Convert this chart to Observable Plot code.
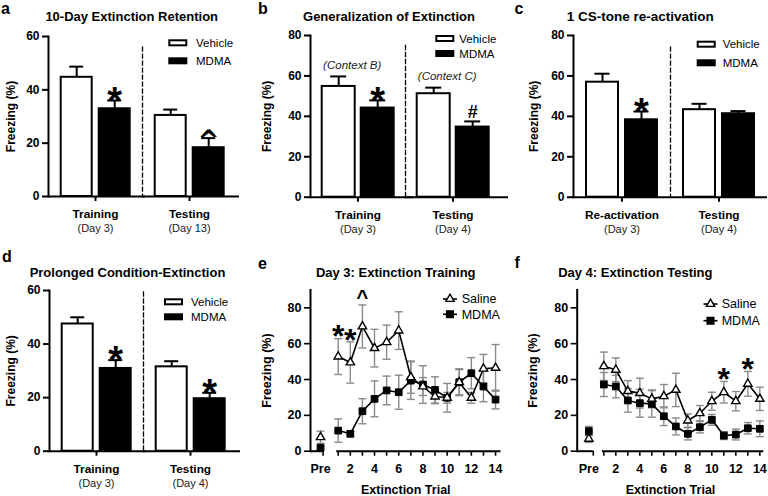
<!DOCTYPE html>
<html><head><meta charset="utf-8">
<script src="https://cdn.jsdelivr.net/npm/d3@7"></script>
<script src="https://cdn.jsdelivr.net/npm/@observablehq/plot@0.6"></script>
<style>
html,body{margin:0;padding:0;background:#fff;}
#root{position:relative;width:768px;height:496px;overflow:hidden;background:#fff;}
</style></head><body><div id="root"></div>
<script>
// ---------------- DATA ----------------
const treatments = ["Vehicle", "MDMA"];

// a: 10-Day Extinction Retention
const aGroups = ["Training", "Testing"];
const aDays = ["(Day 3)", "(Day 13)"];
const aVehicle = [44.7, 30.4];
const aVehicleSem = [4.0, 2.2];
const aMDMA = [32.9, 18.3];
const aMDMASem = [3.1, 3.6];
const aSig = ["*", "^"];

// b: Generalization of Extinction
const bGroups = ["Training", "Testing"];
const bDays = ["(Day 3)", "(Day 4)"];
const bContext = ["(Context B)", "(Context C)"];
const bVehicle = [54.8, 51.2];
const bVehicleSem = [4.95, 3.0];
const bMDMA = [44.1, 34.7];
const bMDMASem = [3.8, 2.8];
const bSig = ["*", "#"];

// c: 1 CS-tone re-activation
const cGroups = ["Re-activation", "Testing"];
const cDays = ["(Day 3)", "(Day 4)"];
const cVehicle = [56.9, 43.3];
const cVehicleSem = [4.2, 2.9];
const cMDMA = [38.3, 41.3];
const cMDMASem = [4.1, 1.3];
const cSig = ["*", ""];

// d: Prolonged Condition-Extinction
const dGroups = ["Training", "Testing"];
const dDays = ["(Day 3)", "(Day 4)"];
const dVehicle = [47.5, 31.5];
const dVehicleSem = [2.5, 2.1];
const dMDMA = [30.9, 19.6];
const dMDMASem = [3.1, 2.2];
const dSig = ["*", "*"];

// e / f: trial series
const trials = [1, 2, 3, 4, 5, 6, 7, 8, 9, 10, 11, 12, 13, 14];
const evenTrials = [2, 4, 6, 8, 10, 12, 14];

const eSaline = [52.8, 49.5, 69.6, 57.5, 60.8, 67.3, 41.3, 36.1, 30.5, 29.8, 38.5, 29.8, 46.0, 46.5];
const eSalineSem = [10, 11.5, 12, 10.5, 9.5, 10.5, 9, 5, 4, 3, 7, 3, 8, 13];
const eMDMA = [11.5, 9.7, 22.3, 29.2, 33.9, 32.9, 39.4, 37.2, 34.2, 29.8, 38.5, 43.5, 36.1, 28.8];
const eMDMASem = [6.5, 1.5, 7, 10, 8, 9.5, 10.5, 10.5, 7.3, 8, 7.5, 8.7, 8.5, 5.2];
const eSalinePre = 7.8, eSalinePreSem = 3.4;
const eMDMAPre = 1.9, eMDMAPreSem = 0.8;
const eSigTrials = [1, 2, 3];
const eSigLabels = ["*", "*", "^"];

const fSaline = [47.4, 45.4, 33.5, 32.4, 29.2, 30.7, 34.2, 17.1, 21.2, 27.9, 32.9, 27.9, 37.6, 29.2];
const fSalineSem = [7.9, 6.6, 5.9, 8.3, 5.0, 6.5, 9.3, 3.7, 4.3, 5.0, 6.0, 5.4, 6.9, 6.5];
const fMDMA = [37.2, 36.1, 28.3, 26.8, 26.4, 19.5, 13.8, 9.7, 13.4, 17.5, 8.7, 9.3, 12.8, 12.5];
const fMDMASem = [6.7, 6.3, 6.5, 7.8, 7.4, 5.2, 4.7, 3.4, 3.2, 3.0, 2.2, 3.0, 3.2, 4.4];
const fSalinePre = 6.9, fSalinePreSem = 2.0;
const fMDMAPre = 11.2, fMDMAPreSem = 2.6;
const fSigTrials = [11, 13];
const fSigLabels = ["*", "*"];

// ---------------- RENDER ----------------
const FONT = '"Liberation Sans", Arial, Helvetica, sans-serif';
const root = document.getElementById("root");
function place(node, left, top) {
  node.style.position = "absolute";
  node.style.left = left + "px";
  node.style.top = top + "px";
  root.appendChild(node);
}

const sigStyleBar = {
  "*": {fontSize: 38, dy: 1, fontFamily: FONT},
  "^": {fontSize: 26, dy: 3, fontFamily: '"DejaVu Sans", sans-serif'},
  "#": {fontSize: 18, dy: -9, fontFamily: FONT}
};
const sigStyleLine = {
  "*": {fontSize: 32, dy: -1.5, fontFamily: FONT},
  "^": {fontSize: 20, dy: -7.4, fontFamily: FONT}
};

function sigMarks(data, styles, common) {
  return Object.entries(styles).map(([sym, st]) =>
    Plot.text(data.filter(d => d.label === sym), {...common, text: "label", fontSize: st.fontSize, dy: st.dy, fontFamily: st.fontFamily, fontWeight: "bold", fill: "#000"}));
}

function barPanel(c) {
  const rows = [];
  c.groups.forEach((g, i) => {
    rows.push({group: g, treatment: "Vehicle", mean: c.veh[i], sem: c.vehSem[i]});
    rows.push({group: g, treatment: "MDMA", mean: c.mdma[i], sem: c.mdmaSem[i]});
  });
  const sub = Object.fromEntries(c.groups.map((g, i) => [g, c.days[i]]));
  const sig = c.groups.map((g, i) => ({group: g, treatment: "MDMA", label: c.sig[i], top: c.mdma[i] + c.mdmaSem[i]}));
  const ctx = c.ctx ? c.groups.map((g, i) => ({group: g, treatment: "Vehicle", label: c.ctx[i], top: c.veh[i] + c.vehSem[i]})) : [];
  const plot = Plot.plot({
    width: 256, height: 248,
    marginLeft: c.m[0], marginTop: c.m[1], marginRight: c.m[2], marginBottom: c.m[3],
    style: {fontFamily: FONT, fontSize: "11.5px", fontWeight: "bold", color: "#000", background: "transparent", overflow: "visible"},
    fx: {domain: c.groups, padding: 0},
    x: {domain: treatments, paddingInner: c.pi, paddingOuter: c.po, axis: null},
    y: {domain: [0, c.yMax]},
    color: {domain: treatments, range: ["#ffffff", "#000000"]},
    marks: [
      Plot.frame({anchor: "left", facetAnchor: "right", insetTop: c.dashInset, stroke: "#000", strokeWidth: 1.3, strokeDasharray: "4,3"}),
      Plot.ruleX(rows, {fx: "group", x: "treatment", y1: "mean", y2: d => d.mean + d.sem, stroke: "#000", strokeWidth: 2}),
      Plot.tickY(rows, {fx: "group", x: "treatment", y: d => d.mean + d.sem, stroke: "#000", strokeWidth: 2, insetLeft: 8.5, insetRight: 8.5}),
      Plot.barY(rows, {fx: "group", x: "treatment", y: "mean", fill: "treatment", stroke: "#000", strokeWidth: 2}),
      Plot.ruleY([0], {stroke: "#000", strokeWidth: 2, insetRight: -c.axisExtend}),
      Plot.frame({anchor: "left", facetAnchor: "left", stroke: "#000", strokeWidth: 2}),
      Plot.axisY({ticks: c.yTicks, tickSize: 6, tickPadding: 3, strokeWidth: 2, label: "Freezing (%)", labelAnchor: "center", labelArrow: "none", labelOffset: c.labelOffset, fontSize: 12}),
      Plot.axisFx({anchor: "bottom", tickSize: 5, tickPadding: 8, strokeWidth: 2, label: null, fontSize: 11.8}),
      Plot.axisFx({anchor: "bottom", tickSize: 0, tickPadding: 27.5, label: null, tickFormat: d => sub[d], fontWeight: "normal", fontSize: 11, fill: "#222"}),
      Plot.text(ctx, {fx: "group", x: "treatment", y: "top", text: "label", dy: -11, dx: 13.5, fontStyle: "italic", fontWeight: "normal", fontSize: 11.5, fill: "#222"}),
      ...sigMarks(sig, sigStyleBar, {fx: "group", x: "treatment", y: "top"})
    ]
  });
  place(plot, c.left, c.top);
}

const hline = {draw(ctx, size) { const r = Math.sqrt(size / Math.PI); ctx.moveTo(-r, 0); ctx.lineTo(r, 0); }};

function linePanel(c) {
  const pts = [];
  trials.forEach((t, i) => {
    pts.push({series: "Saline", x: t, mean: c.sal[i], sem: c.salSem[i]});
    pts.push({series: "MDMA", x: t, mean: c.mdma[i], sem: c.mdmaSem[i]});
  });
  const pre = [
    {series: "Saline", x: c.preX, mean: c.salPre, sem: c.salPreSem},
    {series: "MDMA", x: c.preX, mean: c.mdmaPre, sem: c.mdmaPreSem}
  ];
  const all = pts.concat(pre);
  const caps = all.flatMap(d => [{x: d.x, y: d.mean + d.sem}, {x: d.x, y: Math.max(0, d.mean - d.sem)}]);
  const sig = c.sigTrials.map((t, i) => ({x: t, label: c.sigLabels[i], top: c.sal[t - 1] + c.salSem[t - 1]}));
  const segs = [{x1: c.xDomain[0], x2: c.preTick, y: 0}, {x1: 0.88, x2: c.xDomain[1], y: 0}];
  const plot = Plot.plot({
    width: 256, height: 248,
    marginLeft: c.m[0], marginTop: c.m[1], marginRight: c.m[2], marginBottom: c.m[3],
    style: {fontFamily: FONT, fontSize: "12px", fontWeight: "bold", color: "#000", background: "transparent", overflow: "visible"},
    x: {domain: c.xDomain},
    y: {domain: [0, 90]},
    marks: [
      Plot.ruleX(all, {x: "x", y1: d => Math.max(0, d.mean - d.sem), y2: d => d.mean + d.sem, stroke: "#8a8a8a", strokeWidth: 1.4}),
      Plot.dot(caps, {x: "x", y: "y", symbol: hline, r: 4, fill: "none", stroke: "#8a8a8a", strokeWidth: 1.4}),
      Plot.line(pts, {x: "x", y: "mean", z: "series", stroke: "#000", strokeWidth: 1.6}),
      Plot.dot(all.filter(d => d.series === "MDMA"), {x: "x", y: "mean", symbol: "square", r: 3.8, fill: "#000", stroke: "#000", strokeWidth: 1}),
      Plot.dot(all.filter(d => d.series === "Saline"), {x: "x", y: "mean", symbol: "triangle", r: 3.1, fill: "#fff", stroke: "#000", strokeWidth: 1.4}),
      Plot.ruleY(segs, {x1: "x1", x2: "x2", y: "y", stroke: "#000", strokeWidth: 2}),
      Plot.frame({anchor: "left", stroke: "#000", strokeWidth: 2}),
      Plot.axisY({ticks: [0, 20, 40, 60, 80], tickSize: 6, tickPadding: 3, strokeWidth: 1.6, label: "Freezing (%)", labelAnchor: "center", labelArrow: "none", labelOffset: c.labelOffset, fontSize: 12.5}),
      Plot.axisX({ticks: [c.preTick, ...trials], tickFormat: () => "", tickSize: 5, strokeWidth: 1.6, label: null}),
      Plot.axisX({ticks: [c.preX, ...evenTrials], tickSize: 0, tickPadding: 13, tickFormat: d => d === c.preX ? "Pre" : String(d), label: "Extinction Trial", labelAnchor: "center", labelArrow: "none", labelOffset: 43, fontSize: 12.5}),
      ...sigMarks(sig, sigStyleLine, {x: "x", y: "top"})
    ]
  });
  place(plot, c.left, c.top);
}

barPanel({left: 0, top: 0, groups: aGroups, days: aDays, veh: aVehicle, vehSem: aVehicleSem, mdma: aMDMA, mdmaSem: aMDMASem, sig: aSig,
  yMax: 60, yTicks: [0, 20, 40, 60], m: [47.3, 36, 19, 52], pi: 0.179, po: 0.305, dashInset: 10.7, axisExtend: 3, labelOffset: 42.3});
barPanel({left: 256, top: 0, groups: bGroups, days: bDays, ctx: bContext, veh: bVehicle, vehSem: bVehicleSem, mdma: bMDMA, mdmaSem: bMDMASem, sig: bSig,
  yMax: 80, yTicks: [0, 20, 40, 60, 80], m: [53.3, 35, 11.3, 51.3], pi: 0.153, po: 0.294, dashInset: 10, axisExtend: 8, labelOffset: 48.3});
barPanel({left: 512, top: 0, groups: cGroups, days: cDays, veh: cVehicle, vehSem: cVehicleSem, mdma: cMDMA, mdmaSem: cMDMASem, sig: cSig,
  yMax: 80, yTicks: [0, 20, 40, 60, 80], m: [61, 35, 1, 51.3], pi: 0.168, po: 0.318, dashInset: 11.7, axisExtend: 0, labelOffset: 44.3});
barPanel({left: 0, top: 248, groups: dGroups, days: dDays, veh: dVehicle, vehSem: dVehicleSem, mdma: dMDMA, mdmaSem: dMDMASem, sig: dSig,
  yMax: 60, yTicks: [0, 20, 40, 60], m: [48.3, 42, 19, 45.3], pi: 0.179, po: 0.299, dashInset: 1.5, axisExtend: 3, labelOffset: 43.3});

linePanel({left: 256, top: 248, sal: eSaline, salSem: eSalineSem, mdma: eMDMA, mdmaSem: eMDMASem,
  salPre: eSalinePre, salPreSem: eSalinePreSem, mdmaPre: eMDMAPre, mdmaPreSem: eMDMAPreSem,
  preX: -0.46, preTick: -0.25, xDomain: [-1.29, 14.45], sigTrials: eSigTrials, sigLabels: eSigLabels,
  m: [54, 41.4, 11.5, 45.3], labelOffset: 48});
linePanel({left: 512, top: 248, sal: fSaline, salSem: fSalineSem, mdma: fMDMA, mdmaSem: fMDMASem,
  salPre: fSalinePre, salPreSem: fSalinePreSem, mdmaPre: fMDMAPre, mdmaPreSem: fMDMAPreSem,
  preX: -0.25, preTick: 0.12, xDomain: [-1.22, 14.33], sigTrials: fSigTrials, sigLabels: fSigLabels,
  m: [64.7, 41.4, 4.7, 45.3], labelOffset: 48.7});

// ---------------- OVERLAY: panel letters, titles, legends ----------------
const ov = d3.create("svg").attr("width", 768).attr("height", 496)
  .style("position", "absolute").style("left", "0px").style("top", "0px")
  .style("font-family", FONT).style("pointer-events", "none");

const letters = [["a", 1, 14], ["b", 258, 13.5], ["c", 514.5, 14], ["d", 2, 261.5], ["e", 258, 268.5], ["f", 514.5, 268]];
letters.forEach(([t, x, y]) => ov.append("text").attr("x", x).attr("y", y).attr("font-size", 16).attr("font-weight", "bold").text(t));

const titles = [["10-Day Extinction Retention", 131.7, 20.7, 13], ["Generalization of Extinction", 389, 20.7, 13], ["1 CS-tone re-activation", 640.3, 21.2, 13.5],
  ["Prolonged Condition-Extinction", 127.5, 277, 13], ["Day 3: Extinction Training", 395.7, 277.3, 13], ["Day 4: Extinction Testing", 635.3, 277.3, 13]];
titles.forEach(([t, x, y, fs]) => ov.append("text").attr("x", x).attr("y", y).attr("text-anchor", "middle").attr("font-size", fs).attr("font-weight", "bold").text(t));

function barLegend(x, y1, y2, tx) {
  ov.append("rect").attr("x", x + 1).attr("y", y1 + 1).attr("width", 17).attr("height", 5).attr("fill", "#fff").attr("stroke", "#000").attr("stroke-width", 2);
  ov.append("rect").attr("x", x).attr("y", y2).attr("width", 19).attr("height", 7).attr("fill", "#000");
  ov.append("text").attr("x", tx).attr("y", y1 + 3.5).attr("dy", "0.35em").attr("font-size", 11.5).text(treatments[0]);
  ov.append("text").attr("x", tx).attr("y", y2 + 3.5).attr("dy", "0.35em").attr("font-size", 11.5).text(treatments[1]);
}
barLegend(168.3, 39.3, 57.3, 196);
barLegend(435.3, 35, 50, 459.3);
barLegend(696.7, 40.7, 59.3, 722.7);
barLegend(164, 298.3, 313.3, 191);

function lineLegend(cx, y1, y2, tx) {
  [[y1, "Saline"], [y2, "MDMA"]].forEach(([y, name]) => {
    ov.append("line").attr("x1", cx - 7).attr("x2", cx + 7).attr("y1", y).attr("y2", y).attr("stroke", "#000").attr("stroke-width", 1.6);
    const r = name === "Saline" ? 3.1 : 3.8;
    const sym = d3.symbol(name === "Saline" ? d3.symbolTriangle : d3.symbolSquare, Math.PI * r * r);
    ov.append("path").attr("d", sym()).attr("transform", `translate(${cx},${y})`)
      .attr("fill", name === "Saline" ? "#fff" : "#000").attr("stroke", "#000").attr("stroke-width", 1.4);
    ov.append("text").attr("x", tx).attr("y", y).attr("dy", "0.35em").attr("font-size", 12.5).text(name);
  });
}
lineLegend(450, 299, 314.3, 461.7);
lineLegend(710.5, 304, 320.7, 721.7);

root.appendChild(ov.node());
</script>
</body></html>
